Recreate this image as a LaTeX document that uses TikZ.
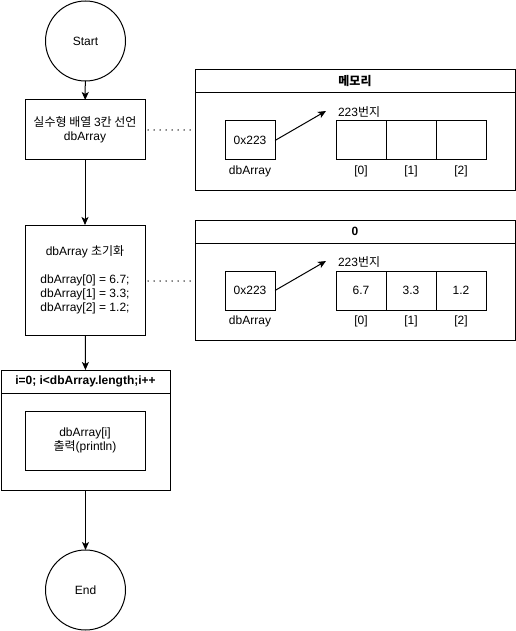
\documentclass[tikz,border=0pt]{standalone}
\usepackage{fontspec}
\setmainfont{Liberation Sans}
\newfontfamily\kr{Noto Sans CJK KR}
\usetikzlibrary{arrows.meta}
\begin{document}
\begin{tikzpicture}[x=1pt,y=-1pt,
  font=\fontsize{12}{14}\selectfont,
  every node/.style={inner sep=0pt,outer sep=0pt},
  box/.style={draw,line width=1pt,anchor=north west,align=center},
  term/.style={draw,line width=1pt,circle,minimum size=80pt},
  lbl/.style={align=center},
  flow/.style={line width=1pt,-{Stealth[length=8pt,width=7pt,inset=2pt]}},
  dots/.style={line width=1.5pt,line cap=round,dash pattern=on 0pt off 6pt},
  ptr/.style={line width=1pt,-{Stealth[length=8pt,width=7pt,inset=2pt]}}]
\useasboundingbox (0,0) rectangle (516,631);

% flow column
\node[term] (start) at (85.5,41) {Start};
\node[box,minimum width=120pt,minimum height=60pt] (decl) at (25,100)
  {{\kr 실수형 배열 }3{\kr 칸 선언}\\dbArray};
\node[box,minimum width=120pt,minimum height=110pt] (init) at (25,225)
  {dbArray {\kr 초기화}\\[14pt]dbArray[0] = 6.7;\\dbArray[1] = 3.3;\\dbArray[2] = 1.2;};
\node[box,minimum width=169pt,minimum height=23pt,font=\fontsize{12}{14}\selectfont\bfseries] (looph) at (1,370) {i=0; i<dbArray.length;i++};
\node[box,minimum width=169pt,minimum height=97pt] (loopb) at (1,393) {};
\node[box,minimum width=120pt,minimum height=59pt] (body) at (25,411) {dbArray[i]\\{\kr 출력}(println)};
\node[term] (end) at (85.5,590) {End};

\draw[flow] (start) -- (decl);
\draw[flow] (decl) -- (init);
\draw[flow] (init) -- (looph);
\draw[flow] (loopb) -- (end);

% memory 1
\node[box,minimum width=320pt,minimum height=23pt,font=\fontsize{12}{14}\selectfont\bfseries] (m1h) at (195,70) {\kr 메모리};
\node[box,minimum width=320pt,minimum height=97pt] (m1b) at (195,93) {};
\node[box,minimum width=50pt,minimum height=39pt] (p1) at (225,121) {0x223};
\node[lbl] (p1l) at (250,171) {dbArray};
\node[lbl,anchor=west] (a1l) at (338,112) {223{\kr 번지}};
\coordinate (t1) at (326,111);
\node[box,minimum width=50pt,minimum height=39pt] (c10) at (336,121) {};
\node[box,minimum width=50pt,minimum height=39pt] (c11) at (386,121) {};
\node[box,minimum width=50pt,minimum height=39pt] (c12) at (436,121) {};
\node[lbl] (i10) at (361,171) {[0]};
\node[lbl] (i11) at (411,171) {[1]};
\node[lbl] (i12) at (461,171) {[2]};
\draw[ptr] (p1.east) -- (t1);
\draw[dots] (decl.east) ++(3,0) -- (m1b.west |- decl.east);

% memory 2
\node[box,minimum width=320pt,minimum height=23pt,font=\fontsize{12}{14}\selectfont\bfseries] (m2h) at (195,220) {0};
\node[box,minimum width=320pt,minimum height=97pt] (m2b) at (195,243) {};
\node[box,minimum width=50pt,minimum height=39pt] (p2) at (225,271) {0x223};
\node[lbl] (p2l) at (250,321) {dbArray};
\node[lbl,anchor=west] (a2l) at (338,262) {223{\kr 번지}};
\coordinate (t2) at (326,261);
\node[box,minimum width=50pt,minimum height=39pt] (c20) at (336,271) {6.7};
\node[box,minimum width=50pt,minimum height=39pt] (c21) at (386,271) {3.3};
\node[box,minimum width=50pt,minimum height=39pt] (c22) at (436,271) {1.2};
\node[lbl] (i20) at (361,321) {[0]};
\node[lbl] (i21) at (411,321) {[1]};
\node[lbl] (i22) at (461,321) {[2]};
\draw[ptr] (p2.east) -- (t2);
\coordinate (d2) at (148,281);
\draw[dots] (d2) -- (m2b.west |- d2);
\end{tikzpicture}
\end{document}
